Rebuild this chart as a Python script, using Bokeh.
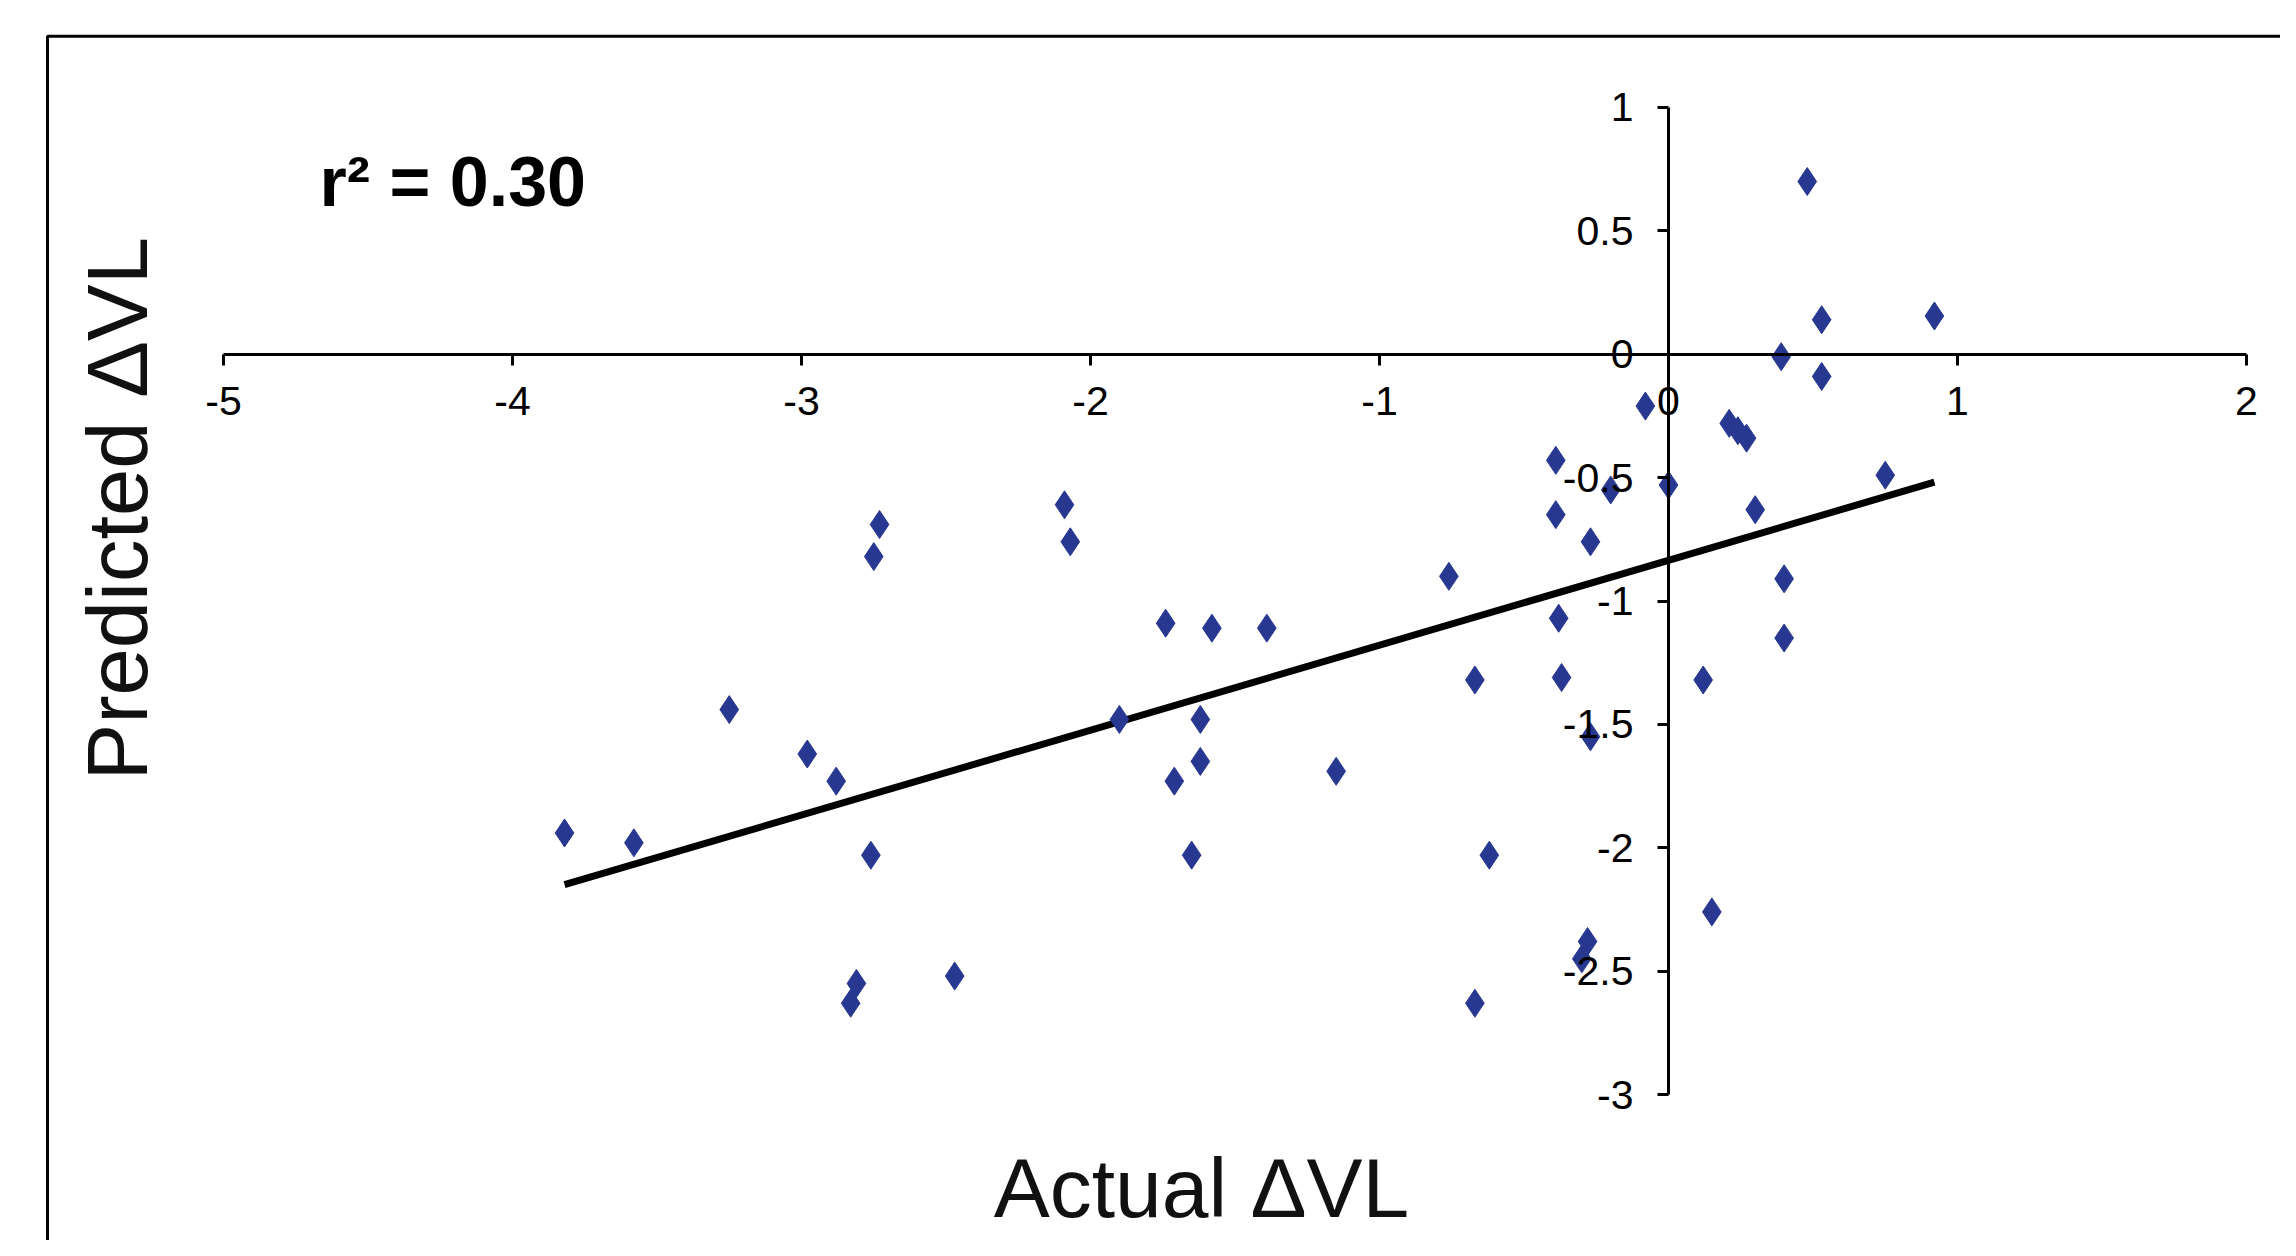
import numpy as np
from bokeh.plotting import figure
from bokeh.models import Label, FixedTicker, CustomJSTickFormatter, Range1d
from bokeh.embed import file_html
from bokeh.resources import INLINE

# ---- data ----
actual_dvl = [0.48, 0.53, 0.92, 0.39, 0.53, -0.08, 0.21, 0.24, 0.27, -0.39,
              -0.20, 0.00, 0.75, -0.39, 0.30, -0.27, -0.76, 0.40, -0.38, 0.40,
              -0.67, -0.37, 0.12, -0.27, -0.62, 0.15, -0.28, -0.30, -0.67, -1.15,
              -1.39, -1.58, -1.74, -1.90, -1.62, -1.62, -1.71, -1.65, -2.09, -2.07,
              -2.73, -2.75, -3.25, -2.98, -2.88, -2.76, -3.82, -3.58, -2.47, -2.81,
              -2.83]
predicted_dvl = [0.70, 0.14, 0.155, -0.01, -0.09, -0.21, -0.28, -0.31, -0.34, -0.43,
                 -0.55, -0.53, -0.49, -0.65, -0.63, -0.76, -0.90, -0.91, -1.07, -1.15,
                 -1.32, -1.31, -1.32, -1.55, -2.03, -2.26, -2.38, -2.45, -2.63, -1.69,
                 -1.11, -1.11, -1.09, -1.48, -1.48, -1.65, -1.73, -2.03, -0.61, -0.76,
                 -0.69, -0.82, -1.44, -1.62, -1.73, -2.03, -1.94, -1.98, -2.52, -2.55,
                 -2.63]
x_ticks = [-5, -4, -3, -2, -1, 0, 1, 2]
y_ticks = [1, 0.5, 0, -0.5, -1, -1.5, -2, -2.5, -3]
r2_text = "r\u00b2 = 0.30"
x_title = "Actual \u0394VL"
y_title = "Predicted \u0394VL"

FONT = "Liberation Sans"
MARKER = "#283891"

W, H = 2280, 1240
p = figure(width=W, height=H, output_backend="svg", toolbar_location=None,
           x_range=Range1d(-5.7717, 2.1176), y_range=Range1d(-3.5916, 1.4336),
           min_border_left=0, min_border_right=0, min_border_top=0, min_border_bottom=0)
p.grid.visible = False
p.outline_line_color = None
p.background_fill_color = "white"
p.border_fill_color = "white"

for ax, ticks, bounds in ((p.xaxis[0], x_ticks, (-5, 2)), (p.yaxis[0], y_ticks, (-3, 1))):
    ax.fixed_location = 0
    ax.bounds = bounds
    ax.ticker = FixedTicker(ticks=ticks, minor_ticks=[])
    ax.formatter = CustomJSTickFormatter(code="return tick.toString()")
    ax.axis_line_color = "black"
    ax.axis_line_width = 3
    ax.major_tick_line_color = "black"
    ax.major_tick_line_width = 3
    ax.major_tick_in = 0
    ax.major_tick_out = 11
    ax.minor_tick_line_color = None
    ax.major_label_text_font = FONT
    ax.major_label_text_font_size = "41px"
    ax.major_label_text_color = "black"
p.xaxis.major_label_standoff = 22
p.yaxis.major_label_standoff = 24

# outer frame (left and top edges visible; right/bottom lie beyond the window)
box_left, box_top, box_right, box_bottom = -5.609, 1.289, 3.0, -4.5
p.line(x=[box_left, box_left, box_right], y=[box_bottom, box_top, box_top],
       line_color="black", line_width=3)

# regression line computed from the data
xa = np.array(actual_dvl)
ya = np.array(predicted_dvl)
slope, intercept = np.polyfit(xa, ya, 1)
fit_x = [xa.min(), xa.max()]
fit_y = [slope * v + intercept for v in fit_x]
p.line(x=fit_x, y=fit_y, line_color="black", line_width=7)

p.scatter(x=actual_dvl, y=predicted_dvl, marker="diamond", size=28,
          fill_color=MARKER, line_color=MARKER)

p.add_layout(Label(x=-4.668, y=0.70, text=r2_text, text_font=FONT,
                   text_font_size="70px", text_font_style="bold",
                   text_baseline="alphabetic", text_align="left", text_color="black"))
p.add_layout(Label(x=-1.616, y=-3.378, text=x_title, text_font=FONT,
                   text_font_size="84px", text_baseline="middle", text_align="center",
                   text_color="#111111"))
p.add_layout(Label(x=-5.367, y=-0.626, text=y_title, text_font=FONT,
                   text_font_size="85px", text_baseline="middle", text_align="center",
                   angle=np.pi / 2, text_color="#111111"))

open("out.html", "w").write(file_html(p, INLINE))
